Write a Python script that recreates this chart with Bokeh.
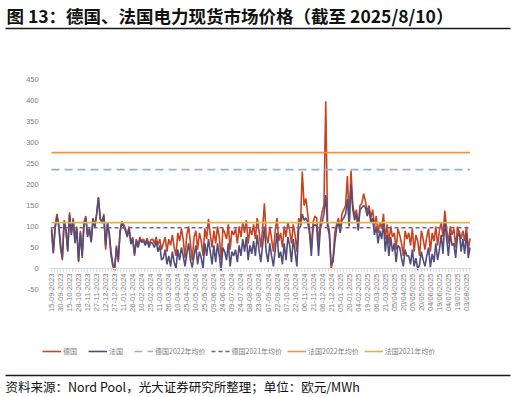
import math
import numpy as np
from bokeh.plotting import figure
from bokeh.models import Range1d, FixedTicker, Legend, LegendItem
from bokeh.embed import file_html
from bokeh.resources import INLINE
from bokeh.core.properties import value

# ---------------- data ----------------
title_text = "图 13：德国、法国电力现货市场价格（截至 2025/8/10）"
source_text = "资料来源：Nord Pool，光大证券研究所整理；单位：欧元/MWh"

tick_labels = [
    "15-09-2023", "30-09-2023", "15-10-2023", "28-10-2023", "12-11-2023", "27-11-2023",
    "12-12-2023", "27-12-2023", "11-01-2024", "26-01-2024", "10-02-2024", "25-02-2024",
    "11-03-2024", "26-03-2024", "10-04-2024", "25-04-2024", "10-05-2024", "25-05-2024",
    "09-06-2024", "24-06-2024", "09-07-2024", "24-07-2024", "08-08-2024", "23-08-2024",
    "07-09-2024", "22-09-2024", "07-10-2024", "22-10-2024", "06-11-2024", "21-11-2024",
    "06-12-2024", "21-12-2024", "05-01-2025", "20-01-2025", "04-02-2025", "19-02-2025",
    "06-03-2025", "21-03-2025", "05/04/2025", "20/04/2025", "05/05/2025", "20/05/2025",
    "04/06/2025", "19/06/2025", "04/07/2025", "19/07/2025", "03/08/2025",
]

# prices sampled every 3rd day, EUR/MWh
de_price = [
    98, 40, 100, 130, 105,   60, 20, 115, 95, 45,   134, 85, 120, 70, 100,
    15, 90, 25, 110, 125,    80, 95, 65, 120, 100,  130, 170, 120, 108, 130,
    45, 110, 80, 30, 5,      -5, 55, 15, 90, 112,   105, 95, 80, 100, 60,
    75, 30, 70, 55, 75,      65, 70, 60, 72, 55,    68, 70, 60, 75, 55,
    70, 45, 60, 75, 40,      70, 55, 80, 50, 30,    85, 65, 95, 70, 25,
    80, 100, 60, 20, 75,     90, 45, 85, 65, 30,    95, 70, 118, 80, 50,
    90, 60, 100, 75, 20,     95, 85, 70, 105, 45,   90, 80, 95, 60, 100,
    75, 110, 85, 115, 60,    95, 80, 105, 70, 120,  90, 50, 95, 155, 80,
    60, 100, 70, 40, 90,     120, 65, 85, 50, 100,  75, 110, 90, 60, 105,
    80, 40, 120, 105, 231,   150, 167, 130, 95, 45,  110, 125, 120, 60, 110,
    135, 150, 398, 110, 90,  -1, 20, 85, 105, 120,   95, 130, 140, 150, 220,
    110, 233, 150, 125, 140, 100, 150, 155, 178, 160, 135, 150, 120, 140, 100,
    125, 85, 110, 95, 130,   70, 105, 60, 100, 75,   85, 45, 95, 80, 60,
    30, 90, 70, 85, 55,      95, 40, 80, 65, 30,    90, 70, 45, 75, 95,
    40, 85, 65, 100, 55,     90, 110, 75, 138, 95,  60, 100, 80, 95, 50,
    100, 85, 70, 90, 65,     100, 45, 72,
]
fr_price = [
    92, 36, 95, 125, 100,    50, 25, 110, 90, 40,   128, 80, 115, 60, 95,
    18, 85, 30, 105, 120,    75, 95, 62, 118, 98,   128, 168, 118, 112, 125,
    55, 108, 85, 40, 10,     2, 50, 20, 85, 110,    100, 90, 75, 95, 58,
    70, 35, 65, 50, 70,      62, 65, 55, 68, 50,    63, 60, 50, 65, 40,
    55, 20, 25, 45, 10,      30, 5, 40, 15, 0,      45, 20, 50, 30, 5,
    35, 60, 20, 2, 30,       55, 10, 40, 25, 0,     60, 30, 70, 40, 10,
    55, 15, 60, 30, -5,      50, 40, 20, 60, 5,     40, 30, 45, 15, 55,
    30, 70, 40, 75, 20,      55, 35, 65, 30, 80,    45, 15, 55, 100, 40,
    15, 60, 30, 5, 45,       85, 25, 40, 10, 60,    20, 75, 55, 15, 70,
    40, 5, 95, 100, 130,     115, 120, 110, 85, 30,  100, 105, 100, 30, 95,
    110, 130, 175, 100, 80,  10, 15, 60, 95, 110,    85, 115, 120, 130, 165,
    100, 200, 140, 115, 130, 90, 140, 145, 150, 145, 125, 140, 110, 120, 80,
    100, 60, 90, 70, 110,    40, 80, 30, 75, 40,    60, 15, 55, 50, 25,
    5, 45, 30, 30, 10,       45, 5, 25, -4, 10,     40, 20, 5, 30, 50,
    3, 35, 15, 60, 20,       45, 80, 35, 115, 70,   30, 85, 55, 60, 25,
    75, 90, 40, 70, 35,      85, 25, 50,
]

de_avg_2022 = 235.4
de_avg_2021 = 96.9
fr_avg_2022 = 275.9
fr_avg_2021 = 109.2

series_names = ["德国", "法国", "德国2022年均价", "德国2021年均价", "法国2022年均价", "法国2021年均价"]
y_ticks = [-50, 0, 50, 100, 150, 200, 250, 300, 350, 400, 450]

# ---------------- styling / layout ----------------
CJK = "Noto Sans CJK SC"
LAT = "Liberation Sans"
GRAY = "#808080"
colors = ["#C8431F", "#524D7A", "#8FB4D3", "#7E5A9B", "#F5923E", "#E2B63A"]

W, H = 515, 397
PX0, PX_PER_IDX = 51.0, 0.6014     # canvas x of first category, px per day index
PY0, PY_PER_UNIT = 268.0, 0.42     # canvas y of value 0, px per EUR/MWh


def dx(px):
    return (px - PX0) / PX_PER_IDX


def dy(py):
    return (PY0 - py) / PY_PER_UNIT


p = figure(width=W, height=H, x_range=Range1d(dx(0), dx(W)), y_range=Range1d(dy(H), dy(0)),
           toolbar_location=None, output_backend="svg", min_border=0,
           outline_line_color=None)
p.grid.visible = False

# ---------------- series ----------------
step = 3
x = np.arange(len(de_price)) * step
tick_pos = [15 * i for i in range(len(tick_labels))]

r_de = p.line(x, de_price, line_color=colors[0], line_width=1.6)
r_fr = p.line(x, fr_price, line_color=colors[1], line_width=1.6)
r_de22 = p.line(x, np.full(len(x), de_avg_2022), line_color=colors[2], line_width=1.6, line_dash="8 5")
r_de21 = p.line(x, np.full(len(x), de_avg_2021), line_color=colors[3], line_width=1.6, line_dash="4 3")
r_fr22 = p.line(x, np.full(len(x), fr_avg_2022), line_color=colors[4], line_width=1.6)
r_fr21 = p.line(x, np.full(len(x), fr_avg_2021), line_color=colors[5], line_width=1.6)

# ---------------- y axis ----------------
p.yaxis.fixed_location = dx(49.2)
p.yaxis.bounds = (y_ticks[0], y_ticks[-1])
p.yaxis.ticker = FixedTicker(ticks=y_ticks)
p.yaxis.major_label_overrides = {t: str(t) for t in y_ticks}
p.yaxis.axis_line_color = None
p.yaxis.major_tick_line_color = None
p.yaxis.minor_tick_line_color = None
p.yaxis.major_label_text_font = LAT
p.yaxis.major_label_text_font_size = "7.5px"
p.yaxis.major_label_text_color = GRAY
p.yaxis.major_label_standoff = 5

# ---------------- x axis at y = 0 ----------------
p.xaxis.fixed_location = 0
p.xaxis.bounds = (dx(48.5), dx(470.5))
p.xaxis.ticker = FixedTicker(ticks=tick_pos, minor_ticks=list(range(0, 700, 5)))
p.xaxis.major_label_overrides = {t: l for t, l in zip(tick_pos, tick_labels)}
p.xaxis.major_label_orientation = math.pi / 2
p.xaxis.axis_line_color = "#D9D9D9"
p.xaxis.major_tick_line_color = "#D9D9D9"
p.xaxis.minor_tick_line_color = "#D9D9D9"
p.xaxis.major_tick_out = 3
p.xaxis.major_tick_in = 0
p.xaxis.minor_tick_out = 3
p.xaxis.minor_tick_in = 0
p.xaxis.major_label_text_font = LAT
p.xaxis.major_label_text_font_size = "7.5px"
p.xaxis.major_label_text_color = GRAY
p.xaxis.major_label_standoff = 2

# ---------------- legend ----------------
renderers = [r_de, r_fr, r_de22, r_de21, r_fr22, r_fr21]
legend = Legend(items=[LegendItem(label=n, renderers=[r]) for n, r in zip(series_names, renderers)],
                orientation="horizontal", location=(42, 41),
                label_text_font=CJK, label_text_font_size="7px", label_text_color=GRAY,
                glyph_width=19, glyph_height=8, label_height=8, label_standoff=2, spacing=5,
                padding=3, margin=0, border_line_color=None, background_fill_alpha=0)
p.add_layout(legend, "center")

# ---------------- title, rules and source ----------------
p.text(x=[dx(6)], y=[dy(15)], text=[title_text], text_font=value(CJK), text_font_size="17.5px",
       text_font_style="bold", text_baseline="middle", text_align="left", text_color="#111111")
p.segment(x0=[dx(5), dx(5)], x1=[dx(510), dx(510)], y0=[dy(28), dy(375)], y1=[dy(28), dy(375)],
          line_color="#1a1a1a", line_width=1.3)
p.text(x=[dx(5)], y=[dy(386)], text=[source_text], text_font=value(CJK), text_font_size="12.5px",
       text_baseline="middle", text_align="left", text_color="#111111")

open("out.html", "w").write(file_html(p, INLINE))
